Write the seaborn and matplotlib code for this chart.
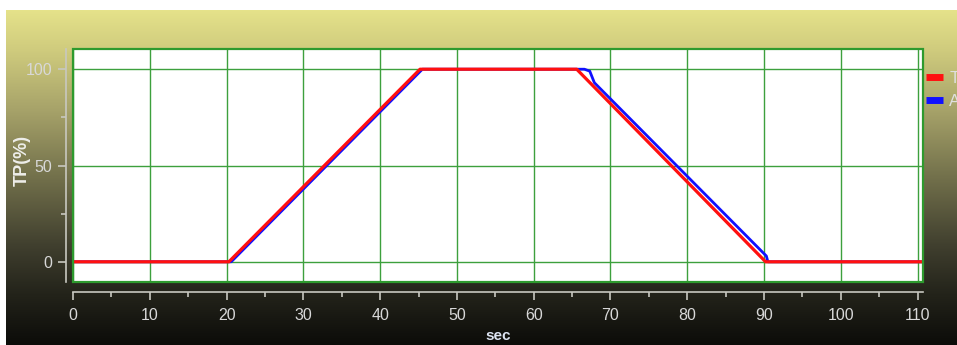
import matplotlib
matplotlib.use("Agg")
import matplotlib.pyplot as plt
import seaborn as sns
import numpy as np
import pandas as pd
from matplotlib.colors import LinearSegmentedColormap
from matplotlib.patches import Rectangle
from matplotlib.lines import Line2D

# breakpoints (sec, %)
target_t = [0, 20.3, 45.2, 65.6, 90.2, 110.7]
target_v = [0, 0, 100, 100, 0, 0]
actual_t = [0, 20.6, 45.5, 65.9, 66.6, 67.3, 67.9, 90.3, 90.5, 110.7]
actual_v = [0, 0, 100, 100, 100, 99, 93, 3, 0, 0]

series_names = ["Target", "Actual"]
series_colors = ["#ff1010", "#1010ff"]
x_ticks = list(range(0, 111, 10))
y_ticks = [0, 50, 100]

sns.set_theme(style="white")
plt.rcParams["font.family"] = ["Liberation Sans", "DejaVu Sans"]

W, H = 957, 345
fig = plt.figure(figsize=(W / 100, H / 100), dpi=100)
fig.patch.set_facecolor("white")

# gradient backdrop
bg = fig.add_axes([6 / W, 0, 1 - 6 / W, 335 / H], zorder=-5)
cmap = LinearSegmentedColormap.from_list(
    "bg",
    [(0.0, "#e5e28a"), (0.12, "#cfcb7d"), (0.3, "#a6a269"), (0.5, "#72704b"),
     (0.7, "#41402f"), (0.85, "#23231a"), (1.0, "#0c0c09")])
bg.imshow(np.linspace(0, 1, 256).reshape(-1, 1), aspect="auto", cmap=cmap,
          extent=[0, 1, 0, 1])
bg.axis("off")

ax = fig.add_axes([73 / W, 63 / H, 850 / W, 233 / H])
ax.set_facecolor("white")

df_t = pd.DataFrame({"sec": target_t, "val": target_v})
df_a = pd.DataFrame({"sec": actual_t, "val": actual_v})
sns.lineplot(data=df_a, x="sec", y="val", color=series_colors[1], lw=2.0,
             estimator=None, sort=False, ax=ax, zorder=3)
sns.lineplot(data=df_t, x="sec", y="val", color=series_colors[0], lw=2.3,
             estimator=None, sort=False, ax=ax, zorder=4)

ax.set_xlim(0, 110.7)
ax.set_ylim(-10.5, 110.5)
ax.set_xticks(x_ticks)
ax.set_xticks(np.arange(5, 111, 10), minor=True)
ax.set_yticks(y_ticks)
ax.set_yticks([25, 75], minor=True)
ax.grid(True, which="major", color="#3da03d", lw=1.0)

# green frame
ax.add_patch(Rectangle((0, 0), 1, 1, transform=ax.transAxes, fill=False,
                       edgecolor="#2e9a2e", lw=1.6, clip_on=False, zorder=5))
ax.spines["top"].set_visible(False)
ax.spines["right"].set_visible(False)
for s in ["left", "bottom"]:
    ax.spines[s].set_color("#c8c8c0")
    ax.spines[s].set_linewidth(1.2)
ax.spines["left"].set_position(("outward", 5))
ax.spines["bottom"].set_position(("outward", 7))

ax.tick_params(axis="both", which="both", bottom=True, left=True)
ax.tick_params(axis="both", which="major", colors="#c8c8c0", labelcolor="#d8d8d8",
               labelsize=11.5, length=6, width=1.2, direction="out")
ax.tick_params(axis="both", which="minor", colors="#c8c8c0", length=3.5,
               width=1.2, direction="out")
ax.tick_params(axis="x", which="major", pad=6)
ax.tick_params(axis="y", which="major", pad=4)

ax.set_xlabel("sec", fontsize=11, fontweight="bold", color="#dde4f2")
ax.set_ylabel("TP(%)", fontsize=13, fontweight="bold", color="#eeeeea")
ax.xaxis.set_label_coords(0.5, -0.2)
ax.yaxis.set_label_coords(-0.05, 0.52)

handles = [Line2D([], [], color=c, lw=5, solid_capstyle="butt") for c in series_colors]
fig.legend(handles, series_names, loc="upper left",
           bbox_to_anchor=(926 / W, 1 - 71 / H), frameon=False,
           handlelength=1.0, handletextpad=0.4, labelspacing=0.5,
           borderpad=0, borderaxespad=0, fontsize=12, labelcolor="#e0e0e0")

fig.savefig("out.png", dpi=100)
